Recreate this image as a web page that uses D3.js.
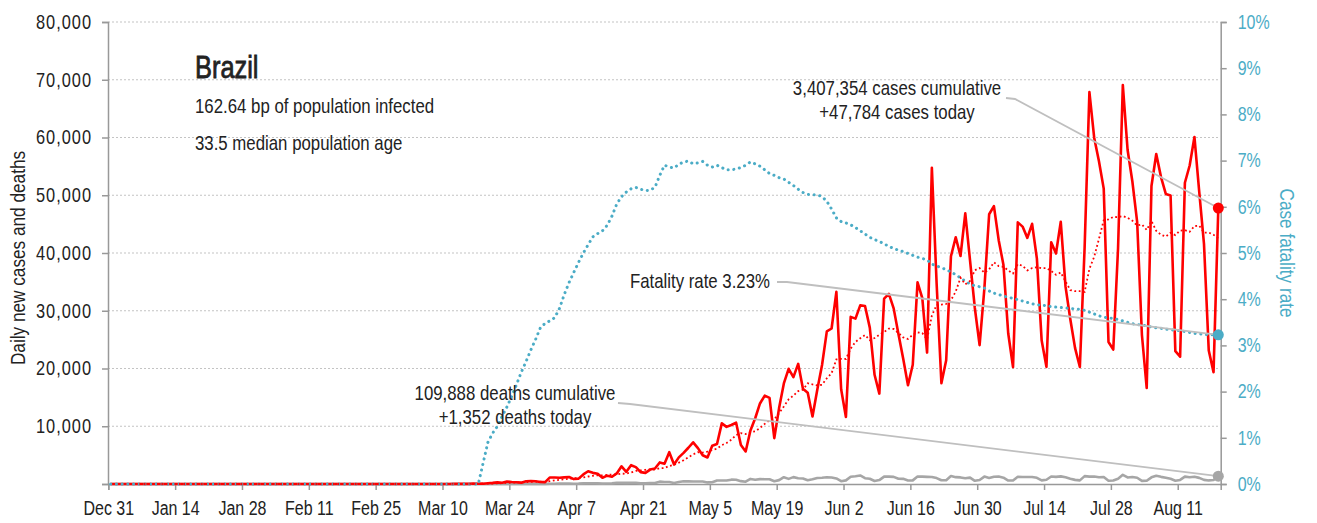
<!DOCTYPE html>
<html>
<head>
<meta charset="utf-8">
<script src="https://cdn.jsdelivr.net/npm/d3@7"></script>
<style>
  body { margin: 0; background: #fff; }
  text { font-family: "Liberation Sans", Arial, sans-serif; fill: #222; }
</style>
</head>
<body>
<svg id="chart" width="1317" height="523"></svg>
<script>
// daily series start on Mar 1; earlier days (from Dec 31) are all zero
const seriesStart = "2020-03-01";

// daily new cases, Mar 1 .. Aug 19
const cases = [
  0,0,0,0,1,5,5,6,6,0,9,18,25,21,23,79,34,57,137,193,283,224,418,345,310,232,482,502,487,352,323,
  1138,1119,1074,1146,1222,852,926,1661,2210,1930,1781,1089,1442,1261,1832,3058,2105,3257,2917,2055,
  1927,2498,2678,3735,3503,5514,3379,4613,5385,6276,
  7218,6209,4970,4588,6633,6935,10503,9888,10222,10611,6760,5632,9258,11385,13944,15305,14919,7938,13140,17408,
  19951,18508,20803,16508,15813,11687,16324,20599,26417,26928,33274,
  16409,11598,28936,28633,30925,30830,27075,18912,15654,32091,32913,30412,25982,21704,17110,20647,34918,32188,22765,54771,
  34666,17459,21432,39436,42725,39483,46860,38693,30476,24052,
  33846,46712,48105,42223,37923,26051,20229,45305,44571,42619,45048,39023,24831,20286,41857,39924,45403,34177,28532,23529,
  20257,41008,67860,59961,55891,51147,24578,23284,40816,69074,57837,
  52383,45392,25800,16641,51603,57152,53139,50230,49970,23010,22048,52160,55155,60091,50644,41576,23101,19373,47784
];

// daily new deaths, Mar 1 .. Aug 19
const deaths = [
  0,0,0,0,0,0,0,0,0,0,0,0,0,0,0,0,0,1,3,2,5,7,7,9,12,11,20,15,19,25,23,
  42,40,58,60,73,54,67,114,133,141,115,68,99,105,204,204,188,217,206,115,113,166,165,407,357,346,189,338,474,449,
  435,428,421,275,296,600,615,610,751,730,496,396,881,749,844,824,816,485,674,1179,888,1188,1001,965,653,807,1039,1086,1156,1124,956,
  480,623,1262,1349,1473,1005,904,525,679,1272,1274,1239,909,892,612,627,1282,1269,1238,1206,1022,641,654,1374,1185,1141,990,1109,552,692,
  1280,1038,1252,1290,1091,602,620,1254,1223,1220,1214,1071,631,733,1300,1233,1322,1163,921,716,632,1367,1284,1311,1156,1211,555,614,921,1595,1129,
  1212,1088,541,561,1154,1437,1237,1079,905,572,703,1274,1175,1262,1060,709,620,684,1352
];

// case fatality rate in %, Mar 1 .. Aug 19
const fatalityRate = [
  0,0,0,0,0,0,0,0,0,0,0,0,0,0,0,0,0,
  0.45,0.9,1.1,1.25,1.47,1.67,1.9,2.15,2.42,2.65,2.9,3.13,3.38,3.48,
  3.53,3.6,3.8,4.1,4.36,4.58,4.8,5.0,5.18,5.35,5.42,5.48,5.6,5.8,6.06,6.22,6.32,6.39,6.42,6.38,
  6.35,6.36,6.42,6.68,6.9,6.86,6.84,6.92,6.97,6.99,
  6.93,6.95,6.98,6.9,6.86,6.9,6.85,6.8,6.8,6.82,6.85,6.9,6.97,6.93,6.88,6.8,6.72,6.68,6.63,6.6,
  6.53,6.46,6.38,6.31,6.27,6.26,6.26,6.22,6.12,5.95,5.76,
  5.68,5.65,5.61,5.55,5.48,5.41,5.34,5.29,5.25,5.2,5.14,5.1,5.06,5.03,4.99,4.95,4.91,4.88,4.85,4.76,
  4.72,4.68,4.64,4.59,4.53,4.46,4.39,4.33,4.29,4.27,
  4.24,4.18,4.13,4.1,4.07,4.04,4.02,3.99,3.96,3.93,3.9,3.88,3.87,3.86,3.84,3.83,3.82,3.81,3.8,3.79,
  3.78,3.76,3.72,3.68,3.64,3.61,3.6,3.58,3.56,3.53,3.5,
  3.47,3.45,3.44,3.42,3.4,3.38,3.37,3.35,3.34,3.33,3.32,3.3,3.28,3.26,3.25,3.24,3.23,3.23,3.23
];

const xTickLabels = ["Dec 31","Jan 14","Jan 28","Feb 11","Feb 25","Mar 10","Mar 24","Apr 7","Apr 21",
                     "May 5","May 19","Jun 2","Jun 16","Jun 30","Jul 14","Jul 28","Aug 11"];
const countTicks = [0,10000,20000,30000,40000,50000,60000,70000,80000];
const rateTicks = [0,1,2,3,4,5,6,7,8,9,10];

const country = "Brazil";
const infoLines = ["162.64 bp of population infected", "33.5 median population age"];
const casesNote = ["3,407,354 cases cumulative", "+47,784 cases today"];
const deathsNote = ["109,888 deaths cumulative", "+1,352 deaths today"];
const rateNote = "Fatality rate 3.23%";

// no narrow font installed: squeeze Liberation Sans horizontally
const squeeze = 0.82;
function narrow(sel) {
  sel.each(function () {
    const t = d3.select(this);
    const x0 = +t.attr("x") || 0;
    const prev = t.attr("transform") || "";
    t.attr("transform", `${prev} translate(${x0},0) scale(${squeeze},1) translate(${-x0},0)`);
  });
}

// ---- scales ----
const svg = d3.select("#chart");
const first = new Date(Date.UTC(2019, 11, 31));
const last = new Date(Date.UTC(2020, 7, 20));
const days = d3.utcDay.range(first, last);
const offset = days.length - cases.length;

const x = d3.scaleUtc().domain([first, last]).range([108.3, 1220.7]);
const y = d3.scaleLinear().domain([0, 80000]).range([484, 22]);
const yRate = d3.scaleLinear().domain([0, 10]).range([484, 22]);
const xMid = d => x(d3.utcHour.offset(d, 12)); // points sit in the middle of each day

const full = arr => days.map((d, i) => ({ date: d, v: i < offset ? 0 : arr[i - offset] }));
const casesAll = full(cases);
const deathsAll = full(deaths);
const rateAll = full(fatalityRate);
// 7 day trailing average of cases
const avgAll = casesAll.map((d, i) => ({
  date: d.date,
  v: i < 6 ? null : d3.mean(casesAll.slice(i - 6, i + 1), e => e.v)
}));

// ---- grid ----
svg.append("g").selectAll("line")
  .data(countTicks.filter(t => t > 0))
  .join("line")
  .attr("x1", 108).attr("x2", 1220)
  .attr("y1", d => y(d)).attr("y2", d => y(d))
  .attr("stroke", "#c4c4c4").attr("stroke-width", 1.2)
  .attr("stroke-dasharray", "2,2");

// ---- axes ----
const axisColor = "#999";
const tickDates = xTickLabels.map((_, i) => d3.utcDay.offset(first, i * 14));

const gx = svg.append("g").attr("transform", "translate(0,484)")
  .call(d3.axisBottom(x).tickValues(tickDates).tickSize(6).tickPadding(11)
    .tickFormat((d, i) => xTickLabels[i]));
gx.selectAll("text").attr("font-size", 19.5).attr("fill", "#222").call(narrow);

const gy = svg.append("g").attr("transform", "translate(108,0)")
  .call(d3.axisLeft(y).tickValues(countTicks).tickSize(6).tickPadding(10)
    .tickFormat(d => d === 0 ? "" : d3.format(",")(d)));
gy.selectAll("text").attr("font-size", 20).attr("letter-spacing", 1.2).attr("fill", "#222").call(narrow);

const gr = svg.append("g").attr("transform", "translate(1220.7,0)")
  .call(d3.axisRight(yRate).tickValues(rateTicks).tickSize(6).tickPadding(11)
    .tickFormat(d => d + "%"));
gr.selectAll("text").attr("font-size", 19.5).style("fill", "#4bacc6").call(narrow);

[gx, gy, gr].forEach(g => {
  g.select(".domain").attr("stroke", axisColor).attr("stroke-width", 1.5);
  g.selectAll(".tick line").attr("stroke", axisColor).attr("stroke-width", 1.5);
});

svg.append("text")
  .attr("transform", "translate(25,258) rotate(-90)")
  .attr("text-anchor", "middle").attr("font-size", 21)
  .text("Daily new cases and deaths").call(narrow);

svg.append("text")
  .attr("transform", "translate(1280,253) rotate(90)")
  .attr("text-anchor", "middle").attr("font-size", 21)
  .style("fill", "#4bacc6")
  .text("Case fatality rate").call(narrow);

// ---- series ----
const lineCount = d3.line().defined(d => d.v != null).x(d => xMid(d.date)).y(d => y(d.v));
const lineRate = d3.line().x(d => xMid(d.date)).y(d => yRate(d.v));

svg.append("path").datum(deathsAll)
  .attr("d", lineCount).attr("fill", "none")
  .attr("stroke", "#a6a6a6").attr("stroke-width", 2.6).attr("stroke-linejoin", "round");

svg.append("path").datum(casesAll)
  .attr("d", lineCount).attr("fill", "none")
  .attr("stroke", "#ff0000").attr("stroke-width", 2.6).attr("stroke-linejoin", "round");

svg.append("path").datum(rateAll)
  .attr("d", lineRate).attr("fill", "none")
  .attr("stroke", "#4bacc6").attr("stroke-width", 3)
  .attr("stroke-linecap", "round").attr("stroke-dasharray", "0.1,5.6");

svg.append("path").datum(avgAll)
  .attr("d", lineCount).attr("fill", "none")
  .attr("stroke", "#ff0000").attr("stroke-width", 1.8)
  .attr("stroke-dasharray", "1.8,2.6");

// ---- title block ----
svg.append("text").attr("x", 195).attr("y", 78)
  .attr("font-size", 31).attr("stroke", "#222").attr("stroke-width", 0.8)
  .text(country).call(narrow);
svg.append("g").selectAll("text").data(infoLines).join("text")
  .attr("x", 195).attr("y", (d, i) => 113 + i * 37)
  .attr("font-size", 20.5)
  .text(d => d).call(narrow);

// ---- annotations with leader lines ----
const lastCases = casesAll[casesAll.length - 1];
const lastDeaths = deathsAll[deathsAll.length - 1];
const lastRate = rateAll[rateAll.length - 1];

function note(lines, tx, ty, anchor, from, target, color) {
  const tgt = [xMid(target.date), target.scale(target.v)];
  svg.append("polyline")
    .attr("points", [from[0], from[1], tgt].map(p => p.join(",")).join(" "))
    .attr("fill", "none").attr("stroke", "#bfbfbf").attr("stroke-width", 1.8);
  svg.append("circle").attr("cx", tgt[0]).attr("cy", tgt[1]).attr("r", 5.5).attr("fill", color);
  svg.append("g").selectAll("text").data(lines).join("text")
    .attr("x", tx).attr("y", (d, i) => ty + i * 24)
    .attr("text-anchor", anchor).attr("font-size", 20.5)
    .text(d => d).call(narrow);
}

note(casesNote, 897, 95, "middle", [[1006, 98], [1015, 99]],
  { date: lastCases.date, v: lastCases.v, scale: y }, "#ff0000");
note([rateNote], 770, 288, "end", [[777, 282], [787, 282]],
  { date: lastRate.date, v: lastRate.v, scale: yRate }, "#4bacc6");
note(deathsNote, 515, 400, "middle", [[618, 403], [630, 404]],
  { date: lastDeaths.date, v: lastDeaths.v, scale: y }, "#a6a6a6");
</script>
</body>
</html>
